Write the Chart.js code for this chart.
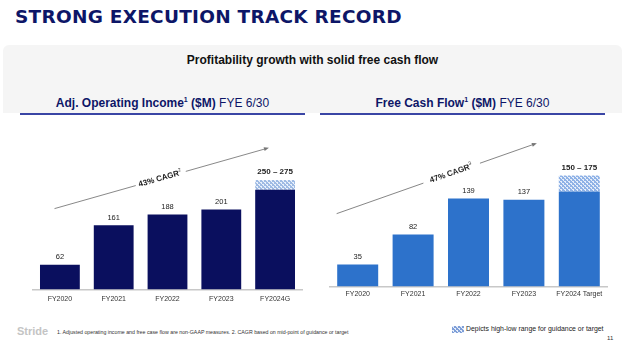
<!DOCTYPE html>
<html>
<head>
<meta charset="utf-8">
<script src="https://cdn.jsdelivr.net/npm/chart.js@4.4.1/dist/chart.umd.min.js"></script>
<style>
  body { margin: 0; width: 625px; height: 354px; background: #fff; position: relative; overflow: hidden; font-family: "Liberation Sans", Arial, sans-serif; }
  .title { position: absolute; left: 15px; top: 6px; font-family: "DejaVu Sans", Verdana, sans-serif; font-weight: bold; font-size: 18.5px; color: #0d1667; letter-spacing: 0.25px; }
  .band { position: absolute; left: 3px; top: 45px; width: 619px; height: 68px; background: #f5f5f5; border-radius: 6px 6px 0 0; }
  .sub { position: absolute; left: 0; width: 625px; top: 53px; text-align: center; font-weight: bold; font-size: 12px; color: #111; }
  .head { position: absolute; top: 96px; font-size: 12px; color: #0d1667; text-align: center; border-bottom: 2px solid #3a45a5; height: 17px; }
  .head b { font-weight: bold; }
  .head sup { font-size: 7px; }
  #wrapL { position: absolute; left: 20px; top: 118px; width: 290px; height: 192px; }
  #wrapR { position: absolute; left: 316px; top: 117px; width: 300px; height: 186px; }
  .stride { position: absolute; left: 17px; top: 325px; font-weight: bold; font-size: 11px; color: #c4c4c4; }
  .note { position: absolute; left: 57px; top: 329px; font-size: 5.25px; color: #333; white-space: nowrap; }
  .legend { position: absolute; left: 452px; top: 325px; font-size: 6.9px; color: #222; white-space: nowrap; }
  .legend canvas { vertical-align: middle; margin-right: 2px; }
  .page { position: absolute; left: 607px; top: 335px; font-size: 6px; color: #333; }
</style>
</head>
<body>
<div class="title">STRONG EXECUTION TRACK RECORD</div>
<div class="band"></div>
<div class="sub">Profitability growth with solid free cash flow</div>
<div class="head" style="left:20px;width:285px;"><b>Adj. Operating Income<sup>1</sup> ($M)</b> FYE 6/30</div>
<div class="head" style="left:320px;width:285px;"><b>Free Cash Flow<sup>1</sup> ($M)</b> FYE 6/30</div>
<div id="wrapL"><canvas id="left"></canvas></div>
<div id="wrapR"><canvas id="right"></canvas></div>
<div class="stride">Stride</div>
<div class="note">1. Adjusted operating income and free case flow are non-GAAP measures. 2. CAGR based on mid-point of guidance or target</div>
<div class="legend"><canvas id="swatch" width="12" height="7"></canvas>Depicts high-low range for guidance or target</div>
<div class="page">11</div>
<script>
// chart data
const incomeYears = ["FY2020", "FY2021", "FY2022", "FY2023", "FY2024G"];
const incomeLow = [62, 161, 188, 201, 250];
const incomeRange = [0, 0, 0, 0, 25];          // high minus low
const incomeLabels = ["62", "161", "188", "201", "250 – 275"];

const cashYears = ["FY2020", "FY2021", "FY2022", "FY2023", "FY2024 Target"];
const cashLow = [35, 82, 139, 137, 150];
const cashRange = [0, 0, 0, 0, 25];
const cashLabels = ["35", "82", "139", "137", "150 – 175"];

// dotted pattern for the guidance range
function makePattern(bg, dot) {
  const c = document.createElement("canvas");
  c.width = 4; c.height = 4;
  const g = c.getContext("2d");
  g.fillStyle = bg; g.fillRect(0, 0, 4, 4);
  g.fillStyle = dot;
  g.fillRect(0, 0, 2, 1); g.fillRect(2, 2, 2, 1);
  g.fillRect(1, 1, 1, 1); g.fillRect(3, 3, 1, 1);
  return g.createPattern(c, "repeat");
}

// value labels above each stack
const valueLabels = {
  id: "valueLabels",
  afterDatasetsDraw(chart, args, opts) {
    const ctx = chart.ctx;
    const top = chart.getDatasetMeta(1);
    const base = chart.getDatasetMeta(0);
    ctx.save();
    ctx.textAlign = "center";
    ctx.textBaseline = "bottom";
    opts.labels.forEach((txt, i) => {
      const bar = chart.data.datasets[1].data[i] > 0 ? top.data[i] : base.data[i];
      const last = i === opts.labels.length - 1;
      ctx.font = (last ? "bold 8px" : "7.5px") + " 'Liberation Sans', Arial, sans-serif";
      ctx.fillStyle = "#222";
      ctx.fillText(txt, bar.x, bar.y - 4);
    });
    ctx.restore();
  }
};

// CAGR trend arrow, placed in data space
const trendArrow = {
  id: "trendArrow",
  afterDatasetsDraw(chart, args, o) {
    const { x, y } = chart.scales;
    const x0 = x.getPixelForValue(o.from[0]), y0 = y.getPixelForValue(o.from[1]);
    const x1 = x.getPixelForValue(o.to[0]), y1 = y.getPixelForValue(o.to[1]);
    const len = Math.hypot(x1 - x0, y1 - y0);
    const ang = Math.atan2(y1 - y0, x1 - x0);
    const ctx = chart.ctx;
    ctx.save();
    ctx.translate(x0, y0);
    ctx.rotate(ang);
    const mid = len * o.at;
    ctx.strokeStyle = "#777";
    ctx.lineWidth = 0.8;
    ctx.beginPath();
    ctx.moveTo(0, 0); ctx.lineTo(mid - o.gap, 0);
    ctx.moveTo(mid + o.gap, 0); ctx.lineTo(len, 0);
    ctx.stroke();
    ctx.fillStyle = "#777";
    ctx.beginPath();
    ctx.moveTo(len + 2, 0); ctx.lineTo(len - 3, -2); ctx.lineTo(len - 3, 2);
    ctx.closePath(); ctx.fill();
    ctx.fillStyle = "#222";
    ctx.font = "bold 8px 'Liberation Sans', Arial, sans-serif";
    ctx.textBaseline = "middle";
    const w = ctx.measureText(o.text).width;
    ctx.textAlign = "left";
    ctx.fillText(o.text, mid - w / 2 - 2, 0);
    ctx.font = "5px 'Liberation Sans', Arial, sans-serif";
    ctx.fillText(o.sup, mid + w / 2 - 2, -3);
    ctx.restore();
  }
};

function makeChart(id, years, low, range, labels, color, pattern, yMax, pad, tickPad, arrow) {
  return new Chart(document.getElementById(id), {
    type: "bar",
    data: {
      labels: years,
      datasets: [
        { data: low, backgroundColor: color, categoryPercentage: 1, barPercentage: 0.74 },
        { data: range, backgroundColor: pattern, categoryPercentage: 1, barPercentage: 0.74 }
      ]
    },
    options: {
      responsive: true,
      maintainAspectRatio: false,
      animation: false,
      layout: { padding: pad },
      plugins: {
        legend: { display: false },
        tooltip: { enabled: false },
        valueLabels: { labels: labels },
        trendArrow: arrow
      },
      scales: {
        x: {
          stacked: true,
          grid: { display: false, drawTicks: false },
          border: { color: "#c8c8c8", width: 1.5 },
          ticks: { color: "#333", font: { size: 7, family: "'Liberation Sans', Arial, sans-serif" }, padding: tickPad }
        },
        y: { stacked: true, display: false, min: 0, max: yMax }
      }
    },
    plugins: [valueLabels, trendArrow]
  });
}

makeChart("left", incomeYears, incomeLow, incomeRange, incomeLabels, "#0a0f5e",
  makePattern("#9fbbe4", "#e8f0fb"), 400, { left: 13, right: 8, top: 12, bottom: 2 }, 5,
  { from: [-0.1, 203], to: [3.85, 354], at: 0.5, gap: 26, text: "43% CAGR", sup: "2" });

makeChart("right", cashYears, cashLow, cashRange, cashLabels, "#2d72cb",
  makePattern("#8fb2e6", "#e6eefa"), 250, { left: 14, right: 9, top: 11, bottom: 2 }, 3,
  { from: [-0.38, 115], to: [3.2, 225], at: 0.58, gap: 30, text: "47% CAGR", sup: "3" });

// legend swatch
const sw = document.getElementById("swatch").getContext("2d");
sw.fillStyle = makePattern("#7f9fd8", "#e6eefa");
sw.fillRect(0, 0, 12, 7);
</script>
</body>
</html>
